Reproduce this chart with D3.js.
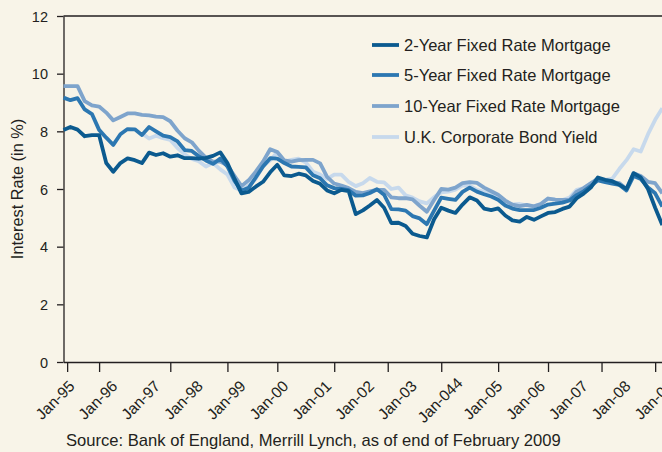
<!DOCTYPE html>
<html>
<head>
<meta charset="utf-8">
<script src="https://cdn.jsdelivr.net/npm/d3@7"></script>
<style>
  body { margin: 0; background: #f8f4e8; }
  svg { display: block; font-family: "Liberation Sans", Arial, sans-serif; fill: #231f20; }
  .frame { stroke: #231f20; stroke-width: 1.3; fill: none; }
  .axis path, .axis line { stroke: #231f20; stroke-width: 1.3; }
  .axis text { font-size: 14.5px; fill: #231f20; font-family: "Liberation Sans", Arial, sans-serif; }
  .series { fill: none; stroke-width: 3.8; stroke-linejoin: round; stroke-linecap: butt; }
  .xlabel { font-size: 15.5px; fill: #231f20; }
  .legend text { font-size: 16.5px; fill: #231f20; }
  .source { font-size: 16.6px; fill: #231f20; }
  .ytitle { font-size: 16.3px; fill: #231f20; }
</style>
</head>
<body>
<div id="chart"></div>
<script>
// bi-monthly readings, Jan-95 .. Jan-09
const months = [
  "1995-01","1995-03","1995-05","1995-07","1995-09","1995-11",
  "1996-01","1996-03","1996-05","1996-07","1996-09","1996-11",
  "1997-01","1997-03","1997-05","1997-07","1997-09","1997-11",
  "1998-01","1998-03","1998-05","1998-07","1998-09","1998-11",
  "1999-01","1999-03","1999-05","1999-07","1999-09","1999-11",
  "2000-01","2000-03","2000-05","2000-07","2000-09","2000-11",
  "2001-01","2001-03","2001-05","2001-07","2001-09","2001-11",
  "2002-01","2002-03","2002-05","2002-07","2002-09","2002-11",
  "2003-01","2003-03","2003-05","2003-07","2003-09","2003-11",
  "2004-01","2004-03","2004-05","2004-07","2004-09","2004-11",
  "2005-01","2005-03","2005-05","2005-07","2005-09","2005-11",
  "2006-01","2006-03","2006-05","2006-07","2006-09","2006-11",
  "2007-01","2007-03","2007-05","2007-07","2007-09","2007-11",
  "2008-01","2008-03","2008-05","2008-07","2008-09","2008-11",
  "2009-01"
];

const rate2y = [
  8.05, 8.15, 8.06, 7.83, 7.87, 7.87,
  6.90, 6.60, 6.90, 7.06, 7.00, 6.90,
  7.26, 7.18, 7.24, 7.12, 7.17, 7.07,
  7.07, 7.05, 7.08, 7.15, 7.27, 6.90,
  6.35, 5.85, 5.90, 6.08, 6.25, 6.58,
  6.84, 6.47, 6.45, 6.53, 6.47, 6.28,
  6.18, 5.95, 5.85, 5.97, 5.93, 5.13,
  5.26, 5.43, 5.62, 5.35, 4.82, 4.83,
  4.72, 4.45, 4.37, 4.32, 4.95, 5.35,
  5.25, 5.17, 5.46, 5.71, 5.60, 5.32,
  5.27, 5.33, 5.08, 4.91, 4.87, 5.03,
  4.93, 5.05, 5.17, 5.20, 5.31, 5.39,
  5.68, 5.84, 6.05, 6.40, 6.32, 6.27,
  6.15, 6.00, 6.55, 6.40, 6.00, 5.35,
  4.75
];

const rate5y = [
  9.17, 9.08, 9.15, 8.76, 8.60, 8.05,
  7.78, 7.53, 7.90, 8.08, 8.07, 7.87,
  8.15, 8.00, 7.85, 7.80, 7.65, 7.35,
  7.32, 7.14, 6.99, 6.87, 7.06, 6.78,
  6.28, 5.94, 6.04, 6.40, 6.78, 7.07,
  7.05, 6.90, 6.78, 6.77, 6.75, 6.48,
  6.37, 6.13, 6.03, 6.00, 5.96, 5.77,
  5.78, 5.86, 5.99, 5.80, 5.30, 5.29,
  5.25, 5.06, 4.98, 4.78, 5.25, 5.70,
  5.66, 5.62, 5.90, 6.05, 5.91, 5.82,
  5.74, 5.63, 5.43, 5.32, 5.27, 5.27,
  5.27, 5.35, 5.46, 5.49, 5.53, 5.60,
  5.79, 5.92, 6.10, 6.30, 6.24, 6.19,
  6.14, 5.95, 6.45, 6.35, 6.05, 5.85,
  5.39
];

const rate10y = [
  9.57, 9.57, 9.57, 9.05, 8.90, 8.86,
  8.65, 8.38, 8.50, 8.62, 8.62, 8.57,
  8.55, 8.51, 8.49, 8.35, 8.02, 7.76,
  7.62, 7.33, 7.09, 6.95, 6.95, 6.82,
  6.45, 6.10, 6.30, 6.60, 6.95, 7.38,
  7.28, 6.99, 6.95, 7.00, 7.01, 7.01,
  6.89, 6.42, 6.19, 6.12, 6.03, 5.90,
  5.86, 5.92, 5.97, 5.97, 5.71, 5.68,
  5.68, 5.64, 5.42, 5.21, 5.62, 6.00,
  5.98, 6.05, 6.20, 6.24, 6.21, 6.05,
  5.92, 5.80, 5.60, 5.46, 5.41, 5.45,
  5.40, 5.48, 5.67, 5.63, 5.62, 5.62,
  5.91, 6.03, 6.20, 6.36, 6.30, 6.24,
  6.20, 6.00, 6.55, 6.45, 6.25, 6.20,
  5.85
];

const bondYield = [
  null, null, null, null, null, null,
  null, null, null, null, null, 7.93,
  7.75, 7.85, 7.76, 7.70, 7.42, 7.20,
  7.04, 6.96, 6.78, 6.90, 6.68, 6.50,
  6.05, 5.95, 6.12, 6.36, 6.80, 7.00,
  7.27, 6.95, 7.01, 7.05, 6.92, 6.60,
  6.50, 6.35, 6.50, 6.50, 6.25, 6.10,
  6.20, 6.38, 6.25, 6.23, 6.00, 6.05,
  5.78, 5.70, 5.57, 5.50, 5.72, 5.88,
  5.91, 5.98, 6.13, 6.12, 5.97, 5.90,
  5.80, 5.65, 5.52, 5.47, 5.48, 5.43,
  5.40, 5.48, 5.67, 5.63, 5.62, 5.70,
  5.97, 6.03, 6.20, 6.34, 6.32, 6.36,
  6.70, 7.00, 7.38, 7.30, 7.90, 8.40,
  8.80
];

const seriesNames = ["2-Year Fixed Rate Mortgage", "5-Year Fixed Rate Mortgage",
  "10-Year Fixed Rate Mortgage", "U.K. Corporate Bond Yield"];
const seriesColors = ["#0b5a8f", "#2c77b1", "#7ea4cc", "#c7d9ec"];

const yTicks = [0, 2, 4, 6, 8, 10, 12];
const xLabels = ["Jan-95","Jan-96","Jan-97","Jan-98","Jan-99","Jan-00","Jan-01",
  "Jan-02","Jan-03","Jan-044","Jan-05","Jan-06","Jan-07","Jan-08","Jan-09"];
const xLabelDates = ["1995-01","1996-01","1997-01","1998-01","1999-01","2000-01","2001-01",
  "2002-01","2003-01","2004-01","2005-01","2006-01","2007-01","2008-01","2009-01"];
// tick marks in the original sit off the label grid
const xTickDates = ["1995-02","1995-11","1997-07","1998-11","2000-01","2001-05",
  "2002-08","2003-11","2005-03","2006-05","2007-08","2008-11"];

const yTitle = "Interest Rate (in %)";
const sourceNote = "Source: Bank of England, Merrill Lynch, as of end of February 2009";

const width = 662, height = 452;
const parse = d3.utcParse("%Y-%m");

const svg = d3.select("#chart").append("svg")
  .attr("width", width)
  .attr("height", height);

const x = d3.scaleUtc()
  .domain([parse("1995-01"), parse("2009-01")])
  .range([63.5, 662.3]);

const y = d3.scaleLinear()
  .domain([0, 12])
  .range([362, 16]);

// axes
svg.append("g")
  .attr("class", "axis")
  .attr("transform", "translate(63.5,0)")
  .call(d3.axisLeft(y).tickValues(yTicks).tickSize(6.5).tickSizeOuter(0).tickPadding(9))
  .call(g => g.selectAll("text").attr("dy", "0.36em"));

svg.append("g")
  .attr("class", "axis")
  .attr("transform", "translate(0,362)")
  .call(d3.axisBottom(x).tickValues(xTickDates.map(parse)).tickSize(10).tickSizeOuter(0).tickFormat(""));

svg.append("line")
  .attr("class", "frame")
  .attr("x1", 63.5).attr("x2", width)
  .attr("y1", y(12)).attr("y2", y(12));

// rotated date labels
svg.append("g")
  .selectAll("text")
  .data(xLabels)
  .join("text")
  .attr("class", "xlabel")
  .attr("text-anchor", "middle")
  .attr("dy", "0.35em")
  .attr("transform", (d, i) => `translate(${x(parse(xLabelDates[i])) - 8.5},400) rotate(-45)`)
  .text(d => d);

svg.append("text")
  .attr("class", "ytitle")
  .attr("text-anchor", "middle")
  .attr("transform", `translate(23,${(y(0) + y(12)) / 2}) rotate(-90)`)
  .text(yTitle);

svg.append("text")
  .attr("class", "source")
  .attr("x", 66)
  .attr("y", 446)
  .text(sourceNote);

// lines: bond yield at the back, 2-year on top
const allSeries = [rate2y, rate5y, rate10y, bondYield];
const line = d3.line()
  .defined(d => d.v != null)
  .x(d => x(d.date))
  .y(d => y(d.v));

const drawOrder = [3, 2, 1, 0];
svg.append("g")
  .selectAll("path")
  .data(drawOrder)
  .join("path")
  .attr("class", "series")
  .attr("stroke", i => seriesColors[i])
  .attr("d", i => line(allSeries[i].map((v, k) => ({ date: parse(months[k]), v }))));

// legend
const legend = svg.append("g").attr("class", "legend");
const rowY = [45, 75, 106, 137];
const item = legend.selectAll("g")
  .data(seriesNames)
  .join("g")
  .attr("transform", (d, i) => `translate(372,${rowY[i]})`);

item.append("line")
  .attr("x1", 0).attr("x2", 27)
  .attr("stroke", (d, i) => seriesColors[i])
  .attr("stroke-width", 3.8);

item.append("text")
  .attr("x", 32)
  .attr("dy", "0.36em")
  .text(d => d);
</script>
</body>
</html>
